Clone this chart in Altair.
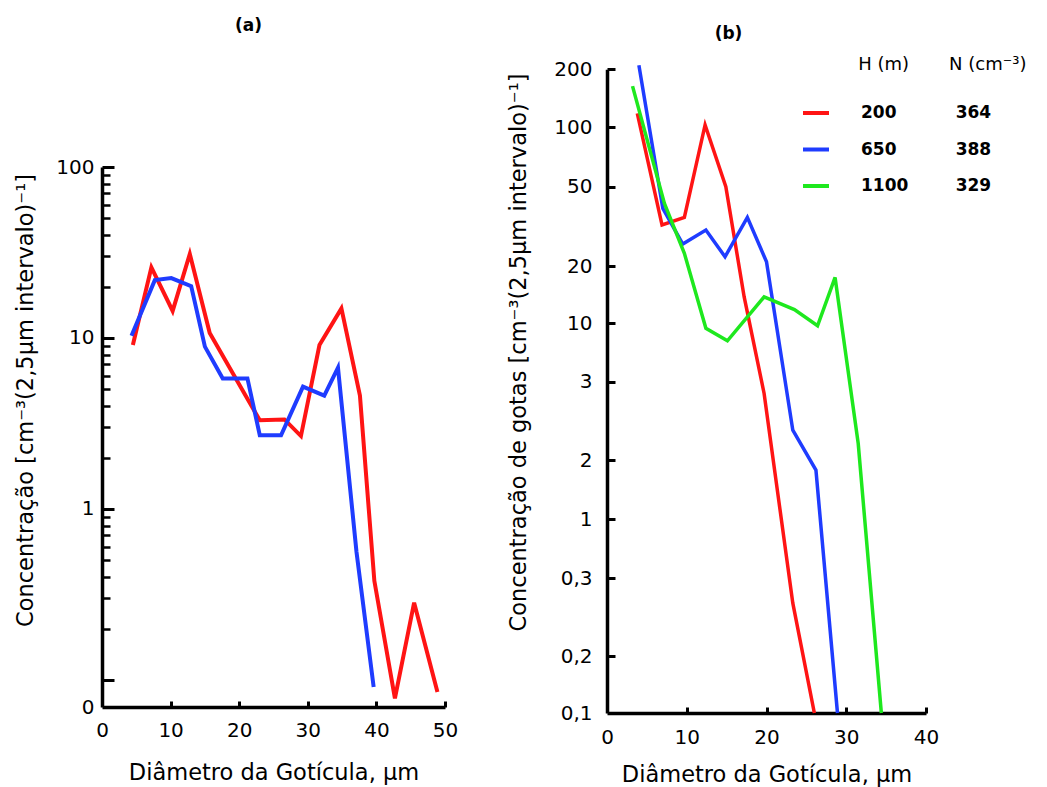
import altair as alt
import pandas as pd

FONT = "DejaVu Sans"
RED, BLUE, GREEN = "#ff1414", "#1f3cff", "#1ee81e"

# ---------- Panel (a) data ----------
a_x_red = [4.5, 7.2, 10.3, 12.8, 15.7, 23.0, 26.6, 29.0, 31.7, 34.9, 37.6, 39.7, 42.7, 45.5, 48.9]
a_y_red = [9.1, 25.9, 14.4, 31.0, 10.7, 3.3, 3.34, 2.67, 9.1, 14.9, 4.6, 0.38, 0.078, 0.283, 0.085]
a_x_blue = [4.3, 7.7, 10.1, 13.0, 15.0, 17.6, 21.2, 23.0, 26.1, 29.3, 32.4, 34.4, 37.1, 39.6]
a_y_blue = [10.3, 21.8, 22.4, 20.1, 8.9, 5.8, 5.8, 2.7, 2.7, 5.2, 4.6, 6.7, 0.56, 0.091]

# ---------- Panel (b) data ----------
h_values = ["200", "650", "1100"]
n_values = ["364", "388", "329"]
b_x_200 = [3.8, 6.9, 9.7, 12.3, 14.9, 17.2, 19.7, 23.3, 26.0]
b_y_200 = [124, 35.5, 38.4, 104, 50, 14.6, 2.85, 0.268, 0.1]
b_x_650 = [4.0, 7.0, 9.5, 12.4, 14.8, 17.6, 20.0, 23.3, 26.2, 28.9]
b_y_650 = [207, 41.8, 28.3, 33.6, 23.5, 38.4, 21.6, 2.38, 1.83, 0.1]
b_x_1100 = [3.2, 7.2, 9.7, 12.4, 15.1, 19.7, 23.5, 26.4, 28.6, 31.5, 34.4]
b_y_1100 = [171, 43.7, 24.8, 9.4, 7.9, 14.6, 12.4, 9.7, 18.0, 2.21, 0.1]

# axis tick values
a_x_ticks = [0, 10, 20, 30, 40, 50]
a_y_labels = [0.0695, 1, 10, 100]
a_y_major = [0.1, 1, 10, 100]
a_y_minor = [0.2, 0.3, 0.4, 0.5, 0.6, 0.7, 0.8, 0.9,
             2, 3, 4, 5, 6, 7, 8, 9,
             20, 30, 40, 50, 60, 70, 80, 90]
b_x_ticks = [0, 10, 20, 30, 40]
b_y_ticks = [0.1, 0.2, 0.3, 1, 2, 3, 10, 20, 50, 100, 200]
b_y_pixels = [646, 589, 511.3, 452.3, 393, 314.7, 256.3, 199, 119.7, 60.3, 2.3]


def nb(n):
    return "\u00a0" * n


# ---------- tables ----------
rows_a = []
for s, xs, ys in [("a1", a_x_red, a_y_red), ("a2", a_x_blue, a_y_blue)]:
    for i, (x, y) in enumerate(zip(xs, ys)):
        rows_a.append({"serie": s, "i": i, "d": x, "c": y})
df_a = pd.DataFrame(rows_a)

legend_labels = []
rows_b = []
for h, n, xs, ys in zip(h_values, n_values,
                        [b_x_200, b_x_650, b_x_1100],
                        [b_y_200, b_y_650, b_y_1100]):
    lab = h + nb(10 - 2 * (len(h) - 3)) + n
    legend_labels.append(lab)
    for i, (x, y) in enumerate(zip(xs, ys)):
        rows_b.append({"serie": lab, "i": i, "d": x, "c": y})
df_b = pd.DataFrame(rows_b)

axis_common = dict(labelFont=FONT, labelColor="black", titleFont=FONT,
                   titleColor="black", titleFontWeight="normal", grid=False,
                   labelFlush=False)

# ---------- Panel (a) ----------
H_A = 640
xs_a = alt.Scale(domain=[0, 50], nice=False, zero=False)
ys_a = alt.Scale(type="log", domain=[0.0695, 100], range=[H_A, 100], nice=False)

a_label_expr = ("datum.value < 0.08 ? '0' : (datum.value == 1 ? '1' : "
                "(datum.value == 10 ? '10' : (datum.value == 100 ? '100' : '')))")

a_main = alt.Chart(df_a).mark_line(strokeWidth=4).encode(
    x=alt.X("d:Q", scale=xs_a, axis=alt.Axis(
        orient="bottom", values=a_x_ticks, ticks=False, tickSize=0,
        domainColor="black", domainWidth=3.5, labelFontSize=20, labelPadding=13,
        title="Diâmetro da Gotícula, μm", titleFontSize=22.5,
        titleY=65, titleBaseline="middle", **axis_common)),
    y=alt.Y("c:Q", scale=ys_a, axis=alt.Axis(
        orient="left", values=a_y_labels, labelExpr=a_label_expr, labelOverlap=False,
        ticks=False, tickSize=0, domainColor="black", domainWidth=3.5,
        labelFontSize=20, labelPadding=8,
        title="Concentração [cm⁻³(2,5μm intervalo)⁻¹]", titleFontSize=22.5,
        titleX=-77, titleY=333, titleBaseline="middle", titleAlign="center",
        **axis_common)),
    color=alt.Color("serie:N", scale=alt.Scale(domain=["a1", "a2"], range=[RED, BLUE]),
                    legend=None),
    order="i:Q",
)

a_major = alt.Chart(df_a).mark_line(strokeOpacity=0).encode(
    x=alt.X("d:Q", scale=xs_a, axis=alt.Axis(
        orient="bottom", values=a_x_ticks[1:], labels=False, domain=False,
        tickSize=6, tickWidth=3, tickColor="black", offset=-6, title=None, grid=False)),
    y=alt.Y("c:Q", scale=ys_a, axis=alt.Axis(
        orient="left", values=a_y_major, labels=False, domain=False,
        tickSize=12, tickWidth=3, tickColor="black", offset=-12, title=None, grid=False)),
)

a_minor = alt.Chart(df_a).mark_line(strokeOpacity=0).encode(
    x=alt.X("d:Q", scale=xs_a, axis=None),
    y=alt.Y("c:Q", scale=ys_a, axis=alt.Axis(
        orient="left", values=a_y_minor, labels=False, domain=False,
        tickSize=8, tickWidth=2.5, tickColor="black", offset=-8, title=None, grid=False)),
)

panel_a = alt.layer(a_main, a_major, a_minor).resolve_axis(
    x="independent", y="independent"
).properties(
    width=343, height=H_A,
    title=alt.TitleParams("(a)", font=FONT, fontSize=17, fontWeight="bold",
                          color="black", frame="group", anchor="middle",
                          dx=-25, offset=32),
)

# ---------- Panel (b) ----------
xs_b = alt.Scale(domain=[0, 40], nice=False, zero=False)
ys_b = alt.Scale(type="linear", domain=b_y_ticks, range=b_y_pixels, nice=False, zero=False)

legend_title = "\u200b" + nb(10) + "H (m)" + nb(7) + "N (cm⁻³)"

b_main = alt.Chart(df_b).mark_line(strokeWidth=3.5).encode(
    x=alt.X("d:Q", scale=xs_b, axis=alt.Axis(
        orient="bottom", values=b_x_ticks, ticks=False, tickSize=0,
        domainColor="black", domainWidth=3.5, labelFontSize=20, labelPadding=14,
        title="Diâmetro da Gotícula, μm", titleFontSize=22.5,
        titleY=61, titleBaseline="middle", **axis_common)),
    y=alt.Y("c:Q", scale=ys_b, axis=alt.Axis(
        orient="left", values=b_y_ticks,
        labelExpr="replace(format(datum.value, '~g'), '.', ',')",
        labelOverlap=False, ticks=False, tickSize=0,
        domainColor="black", domainWidth=3.5, labelFontSize=20, labelPadding=15,
        title="Concentração de gotas [cm⁻³(2,5μm intervalo)⁻¹]", titleFontSize=22.5,
        titleX=-89, titleY=285, titleBaseline="middle", titleAlign="center",
        **axis_common)),
    color=alt.Color("serie:N", sort=legend_labels,
                    scale=alt.Scale(domain=legend_labels, range=[RED, BLUE, GREEN]),
                    legend=alt.Legend(
                        orient="none", legendX=194, legendY=-11,
                        title=legend_title, titleFont=FONT, titleFontSize=18,
                        titleFontWeight="normal", titleColor="black", titleLimit=400,
                        titlePadding=24,
                        symbolType="stroke", symbolSize=676, symbolStrokeWidth=4,
                        labelFont=FONT, labelFontSize=17, labelFontWeight="bold",
                        labelColor="black", labelLimit=400, labelOffset=30,
                        rowPadding=13.5)),
    order="i:Q",
)

b_ticks = alt.Chart(df_b).mark_line(strokeOpacity=0).encode(
    x=alt.X("d:Q", scale=xs_b, axis=alt.Axis(
        orient="bottom", values=b_x_ticks[1:], labels=False, domain=False,
        tickSize=6, tickWidth=3, tickColor="black", offset=-6, title=None, grid=False)),
    y=alt.Y("c:Q", scale=ys_b, axis=alt.Axis(
        orient="left", values=b_y_ticks[1:], labels=False, domain=False,
        tickSize=8, tickWidth=3, tickColor="black", offset=-8, title=None, grid=False)),
)

panel_b = alt.layer(b_main, b_ticks).resolve_axis(
    x="independent", y="independent"
).properties(
    width=319, height=646,
    title=alt.TitleParams("(b)", font=FONT, fontSize=17, fontWeight="bold",
                          color="black", frame="group", anchor="middle",
                          dx=-38, offset=13),
)

chart = alt.hconcat(panel_a, panel_b, spacing=49).resolve_scale(
    color="independent"
).properties(
    padding={"left": 6, "top": 9, "right": 5, "bottom": 5}
).configure_view(stroke=None)

chart.save("out.html", embed_options={"renderer": "svg", "actions": False})
